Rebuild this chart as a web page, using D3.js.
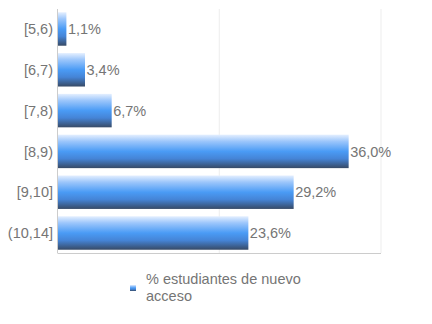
<!DOCTYPE html>
<html>
<head>
<meta charset="utf-8">
<script src="https://cdn.jsdelivr.net/npm/d3@7"></script>
<style>
  body { margin: 0; background: #fff; }
  text { font-family: "Liberation Sans", Arial, sans-serif; }
</style>
</head>
<body>
<div id="chart"></div>
<script>
// Data
const categories = ["[5,6)", "[6,7)", "[7,8)", "[8,9)", "[9,10]", "(10,14]"];
const values = [1.1, 3.4, 6.7, 36.0, 29.2, 23.6];
const xTicks = [0, 20, 40];
const legendLines = ["% estudiantes de nuevo", "acceso"];

const W = 432, H = 324;
const margin = { top: 9, right: 51, bottom: 71, left: 57.5 };
const width = W - margin.left - margin.right;
const height = H - margin.top - margin.bottom;
const fontSize = 14.5;

const svg = d3.select("#chart").append("svg")
    .attr("width", W)
    .attr("height", H);

// Vertical gradient for the bars
const defs = svg.append("defs");
const grad = defs.append("linearGradient")
    .attr("id", "barGrad")
    .attr("x1", 0).attr("y1", 0).attr("x2", 0).attr("y2", 1);
grad.append("stop").attr("offset", "0%").attr("stop-color", "#e4efff");
grad.append("stop").attr("offset", "20%").attr("stop-color", "#9cc6fb");
grad.append("stop").attr("offset", "50%").attr("stop-color", "#4a9bf5");
grad.append("stop").attr("offset", "72%").attr("stop-color", "#4584d6");
grad.append("stop").attr("offset", "100%").attr("stop-color", "#374a66");

const g = svg.append("g")
    .attr("transform", `translate(${margin.left},${margin.top})`);

const x = d3.scaleLinear().domain([0, 40]).range([0, width]);
const y = d3.scaleBand()
    .domain(categories)
    .range([0, height])
    .paddingInner(0.18)
    .paddingOuter(0.08);

// Gridlines
g.selectAll(".grid")
    .data(xTicks.slice(1))
    .join("line")
    .attr("x1", d => x(d)).attr("x2", d => x(d))
    .attr("y1", 0).attr("y2", height)
    .attr("stroke", "#ededed");

// Axis lines
g.append("line")
    .attr("x1", 0).attr("x2", 0)
    .attr("y1", 0).attr("y2", height)
    .attr("stroke", "#cccccc");
g.append("line")
    .attr("x1", 0).attr("x2", width)
    .attr("y1", height + 0.5).attr("y2", height + 0.5)
    .attr("stroke", "#cccccc");

const data = categories.map((c, i) => ({ cat: c, value: values[i] }));

// Bars
g.selectAll(".bar")
    .data(data)
    .join("rect")
    .attr("x", 0.5)
    .attr("y", d => y(d.cat))
    .attr("width", d => x(d.value) - 0.5)
    .attr("height", y.bandwidth())
    .attr("fill", "url(#barGrad)");

// Value labels
g.selectAll(".val")
    .data(data)
    .join("text")
    .attr("x", d => x(d.value) + 1.5)
    .attr("y", d => y(d.cat) + y.bandwidth() / 2)
    .attr("dy", "0.36em")
    .attr("font-size", fontSize)
    .attr("fill", "#757575")
    .text(d => d.value.toFixed(1).replace(".", ",") + "%");

// Category labels
g.selectAll(".cat")
    .data(data)
    .join("text")
    .attr("x", -4.5)
    .attr("y", d => y(d.cat) + y.bandwidth() / 2)
    .attr("dy", "0.36em")
    .attr("text-anchor", "end")
    .attr("font-size", fontSize)
    .attr("fill", "#757575")
    .text(d => d.cat);

// Legend
const legend = svg.append("g").attr("transform", "translate(130,285)");
legend.append("rect")
    .attr("width", 6).attr("height", 6)
    .attr("fill", "url(#barGrad)");
legend.selectAll("text")
    .data(legendLines)
    .join("text")
    .attr("x", 16)
    .attr("y", (d, i) => -6 + i * 17)
    .attr("dy", "0.36em")
    .attr("font-size", fontSize)
    .attr("fill", "#757575")
    .text(d => d);
</script>
</body>
</html>
